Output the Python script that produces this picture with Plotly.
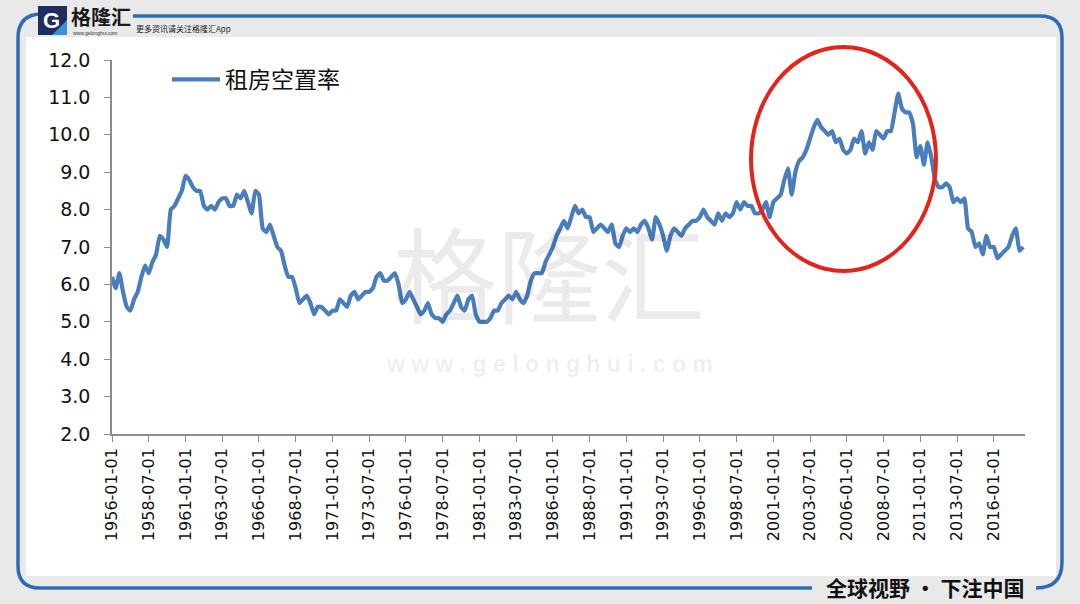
import pandas as pd
import plotly.graph_objects as go

# ---------------- data (quarterly rental vacancy rate, %) ----------------
start_date = "1956-01-01"
series_name = "租房空置率"
rent_vacancy = [
    # 1956-1965
    6.2, 5.9, 6.3, 5.8, 5.4, 5.3, 5.6, 5.8, 6.2, 6.5, 6.3, 6.6, 6.8, 7.3, 7.2, 7.0,
    8.0, 8.1, 8.3, 8.5, 8.9, 8.8, 8.6, 8.5, 8.5, 8.1, 8.0, 8.1, 8.0, 8.2, 8.3, 8.3,
    8.1, 8.1, 8.4, 8.3, 8.5, 8.2, 7.9, 8.5,
    # 1966-1975
    8.4, 7.5, 7.4, 7.6, 7.3, 7.0, 6.9, 6.5, 6.2, 6.2, 5.9, 5.5, 5.6, 5.7, 5.5, 5.2,
    5.4, 5.4, 5.3, 5.2, 5.3, 5.3, 5.6, 5.5, 5.4, 5.7, 5.8, 5.6, 5.7, 5.8, 5.8, 5.9,
    6.2, 6.3, 6.1, 6.1, 6.2, 6.3, 6.0, 5.5,
    # 1976-1985
    5.6, 5.8, 5.6, 5.4, 5.2, 5.3, 5.5, 5.2, 5.1, 5.1, 5.0, 5.2, 5.3, 5.5, 5.7, 5.4,
    5.3, 5.6, 5.7, 5.2, 5.0, 5.0, 5.0, 5.1, 5.3, 5.3, 5.5, 5.6, 5.7, 5.6, 5.8, 5.6,
    5.5, 5.7, 6.1, 6.3, 6.3, 6.3, 6.6, 6.8,
    # 1986-1995
    7.0, 7.3, 7.5, 7.7, 7.5, 7.8, 8.1, 7.9, 8.0, 7.8, 7.8, 7.4, 7.5, 7.6, 7.5, 7.4,
    7.6, 7.1, 7.0, 7.3, 7.5, 7.4, 7.5, 7.4, 7.6, 7.7, 7.5, 7.2, 7.8, 7.6, 7.3, 6.9,
    7.3, 7.5, 7.4, 7.3, 7.5, 7.6, 7.7, 7.7,
    # 1996-2005
    7.8, 8.0, 7.8, 7.7, 7.6, 7.9, 7.7, 7.9, 7.8, 7.9, 8.2, 8.0, 8.2, 8.1, 8.1, 7.9,
    7.9, 8.0, 8.2, 7.8, 8.2, 8.3, 8.4, 8.8, 9.1, 8.4, 9.0, 9.3, 9.4, 9.6, 9.9, 10.2,
    10.4, 10.2, 10.1, 10.0, 10.1, 9.8, 9.9, 9.6,
    # 2006-2015
    9.5, 9.6, 9.9, 9.8, 10.1, 9.5, 9.8, 9.6, 10.1, 10.0, 9.9, 10.1, 10.1, 10.6, 11.1, 10.7,
    10.6, 10.6, 10.3, 9.4, 9.7, 9.2, 9.8, 9.4, 8.8, 8.6, 8.6, 8.7, 8.6, 8.2, 8.3, 8.2,
    8.3, 7.5, 7.4, 7.0, 7.1, 6.8, 7.3, 7.0,
    # 2016-2018Q1
    7.0, 6.7, 6.8, 6.9, 7.0, 7.3, 7.5, 6.9, 7.0,
]
dates = pd.date_range(start_date, periods=len(rent_vacancy), freq="QS").strftime("%Y-%m-%d").tolist()
tick_labels = dates[::10]
y_ticks = [2, 3, 4, 5, 6, 7, 8, 9, 10, 11, 12]

# ---------------- layout geometry (pixels) ----------------
W, H = 1080, 604
L, R, T, B = 112, 1025, 60, 434


def px(x):
    return (x - L) / (R - L)


def py(y):
    return (B - y) / (B - T)


fig = go.Figure()
fig.add_trace(go.Scatter(
    x=dates, y=rent_vacancy, mode="lines", name=series_name,
    line=dict(color="#4a7ebb", width=4.2, shape="spline", smoothing=0.4),
    showlegend=True,
))

blue = "#2e6bb4"
shapes = [
    # white panel
    dict(type="rect", xref="paper", yref="paper", x0=px(26), x1=px(1056), y0=py(576), y1=py(37),
         fillcolor="white", line=dict(width=0), layer="below"),
    # left / bottom frame
    dict(type="path", xref="paper", yref="paper",
         path=(f"M {px(42)},{py(14)} Q {px(18)},{py(14)} {px(18)},{py(38)} L {px(18)},{py(566)} "
               f"Q {px(18)},{py(588)} {px(40)},{py(588)} L {px(812)},{py(588)}"),
         line=dict(color=blue, width=3.5)),
    # right / top frame
    dict(type="path", xref="paper", yref="paper",
         path=(f"M {px(1036)},{py(588)} Q {px(1062)},{py(588)} {px(1062)},{py(562)} L {px(1062)},{py(38)} "
               f"Q {px(1062)},{py(16)} {px(1040)},{py(16)} L {px(133)},{py(16)}"),
         line=dict(color=blue, width=3.5)),
    # logo square
    dict(type="rect", xref="paper", yref="paper", x0=px(38), x1=px(67), y0=py(35), y1=py(6),
         fillcolor="#1f2d5c", line=dict(width=0)),
    dict(type="path", xref="paper", yref="paper",
         path=f"M {px(52)},{py(35)} L {px(67)},{py(35)} L {px(67)},{py(20)} Z",
         fillcolor="#3d8fd6", line=dict(width=0)),
    # red ellipse
    dict(type="circle", xref="paper", yref="paper", x0=px(751), x1=px(936), y0=py(271), y1=py(47),
         line=dict(color="#e3241c", width=4)),
]


def note(text, x, y, size, color, family="Noto Sans CJK SC", xanchor="center"):
    return dict(text=text, x=px(x), y=py(y), xref="paper", yref="paper", showarrow=False,
                xanchor=xanchor, yanchor="middle", font=dict(family=family, size=size, color=color))


annotations = [
    note("格隆汇", 549, 270, 104, "rgba(0,0,0,0.08)"),
    note("<b>w w w . g e l o n g h u i . c o m</b>", 549, 364, 23, "rgba(0,0,0,0.08)", family="Arial"),
    note("<b>G</b>", 51, 20, 22, "white", family="Arial"),
    note("<b>格隆汇</b>", 69, 17, 20, "#1a1a1a", xanchor="left"),
    note("www.gelonghui.com", 71, 33, 5, "#333", family="Arial", xanchor="left"),
    note("更多资讯请关注格隆汇App", 134, 28, 8, "#222", xanchor="left"),
    note("<b>全球视野 • 下注中国</b>", 925, 587, 21, "#111"),
]

fig.update_layout(
    width=W, height=H,
    margin=dict(l=L, r=W - R, t=T, b=H - B, pad=0),
    paper_bgcolor="#e9e9e9", plot_bgcolor="white",
    shapes=shapes, annotations=annotations,
    showlegend=True,
    legend=dict(x=px(167), y=py(58), xanchor="left", yanchor="top", bgcolor="rgba(0,0,0,0)",
                font=dict(family="Noto Sans CJK SC", size=23, color="#111"), itemwidth=48),
    xaxis=dict(type="category", range=[0, len(rent_vacancy) - 0.5], tickmode="array",
               tickvals=tick_labels, ticktext=tick_labels, tickangle=-90,
               showgrid=False, zeroline=False, showline=True, linecolor="#8c8c8c", linewidth=1.5,
               ticks="outside", ticklen=6, tickcolor="#8c8c8c", tickwidth=1,
               tickfont=dict(family="DejaVu Sans", size=16, color="#111")),
    yaxis=dict(range=[2, 12], tickvals=y_ticks, tickformat=".1f",
               showgrid=False, zeroline=False, showline=True, linecolor="#8c8c8c", linewidth=1.5,
               ticks="outside", ticklen=6, tickcolor="#8c8c8c", tickwidth=1, ticklabelstandoff=10,
               tickfont=dict(family="DejaVu Sans", size=19, color="#111")),
)

fig.write_html("out.html", config={"displayModeBar": False},
               post_script="document.body.style.margin='0';document.body.style.overflow='hidden';")
